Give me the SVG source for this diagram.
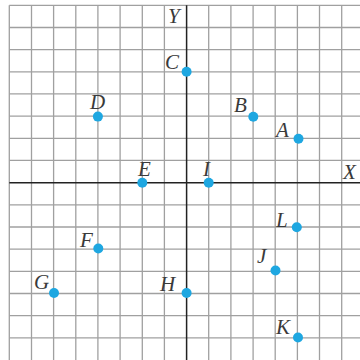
<svg xmlns="http://www.w3.org/2000/svg" width="360" height="360" viewBox="0 0 360 360">
<style>
.grid line{stroke:#a0a0a0;stroke-width:1.3}
.axis{stroke:#222;stroke-width:1.5}
.pt{fill:#1ea7e1}
.lbl{font-family:"Liberation Serif",serif;font-style:italic;font-size:21px;fill:#3a3a3a}
</style>
<rect width="360" height="360" fill="#fff"/>
<g class="grid">
<line x1="9.3" y1="5.3" x2="9.3" y2="360"/>
<line x1="31.5" y1="5.3" x2="31.5" y2="360"/>
<line x1="53.6" y1="5.3" x2="53.6" y2="360"/>
<line x1="75.8" y1="5.3" x2="75.8" y2="360"/>
<line x1="97.9" y1="5.3" x2="97.9" y2="360"/>
<line x1="120.1" y1="5.3" x2="120.1" y2="360"/>
<line x1="142.3" y1="5.3" x2="142.3" y2="360"/>
<line x1="164.4" y1="5.3" x2="164.4" y2="360"/>
<line x1="208.7" y1="5.3" x2="208.7" y2="360"/>
<line x1="230.9" y1="5.3" x2="230.9" y2="360"/>
<line x1="253.1" y1="5.3" x2="253.1" y2="360"/>
<line x1="275.2" y1="5.3" x2="275.2" y2="360"/>
<line x1="297.4" y1="5.3" x2="297.4" y2="360"/>
<line x1="319.5" y1="5.3" x2="319.5" y2="360"/>
<line x1="341.7" y1="5.3" x2="341.7" y2="360"/>
<line x1="9.3" y1="5.3" x2="360" y2="5.3"/>
<line x1="9.3" y1="27.5" x2="360" y2="27.5"/>
<line x1="9.3" y1="49.6" x2="360" y2="49.6"/>
<line x1="9.3" y1="71.8" x2="360" y2="71.8"/>
<line x1="9.3" y1="93.9" x2="360" y2="93.9"/>
<line x1="9.3" y1="116.1" x2="360" y2="116.1"/>
<line x1="9.3" y1="138.3" x2="360" y2="138.3"/>
<line x1="9.3" y1="160.4" x2="360" y2="160.4"/>
<line x1="9.3" y1="204.9" x2="360" y2="204.9"/>
<line x1="9.3" y1="227.0" x2="360" y2="227.0"/>
<line x1="9.3" y1="249.2" x2="360" y2="249.2"/>
<line x1="9.3" y1="271.3" x2="360" y2="271.3"/>
<line x1="9.3" y1="293.5" x2="360" y2="293.5"/>
<line x1="9.3" y1="315.7" x2="360" y2="315.7"/>
<line x1="9.3" y1="337.8" x2="360" y2="337.8"/>
</g>
<g id="axes">
<line class="axis" x1="186.6" y1="5.3" x2="186.6" y2="360"/>
<line class="axis" x1="9.3" y1="182.7" x2="360" y2="182.7"/>
<text class="lbl" x="168" y="23">Y</text>
<text class="lbl" x="343" y="179">X</text>
</g>
<g id="A"><circle class="pt" cx="298.5" cy="138.8" r="5"/><text class="lbl" x="276" y="137">A</text></g>
<g id="B"><circle class="pt" cx="253.3" cy="116.8" r="5"/><text class="lbl" x="234" y="112">B</text></g>
<g id="C"><circle class="pt" cx="186.6" cy="71.8" r="5"/><text class="lbl" x="165" y="69">C</text></g>
<g id="D"><circle class="pt" cx="97.9" cy="116.6" r="5"/><text class="lbl" x="90" y="109">D</text></g>
<g id="E"><circle class="pt" cx="142.3" cy="182.7" r="5"/><text class="lbl" x="138" y="176">E</text></g>
<g id="I"><circle class="pt" cx="208.7" cy="182.7" r="5"/><text class="lbl" x="203" y="176">I</text></g>
<g id="F"><circle class="pt" cx="98.3" cy="248.5" r="5"/><text class="lbl" x="80" y="247">F</text></g>
<g id="G"><circle class="pt" cx="54" cy="293" r="5"/><text class="lbl" x="34" y="289">G</text></g>
<g id="H"><circle class="pt" cx="186.6" cy="293" r="5"/><text class="lbl" x="160" y="291">H</text></g>
<g id="L"><circle class="pt" cx="296.8" cy="227.3" r="5"/><text class="lbl" x="276" y="227">L</text></g>
<g id="J"><circle class="pt" cx="275.5" cy="270.5" r="5"/><text class="lbl" x="257" y="263">J</text></g>
<g id="K"><circle class="pt" cx="298" cy="337.5" r="5"/><text class="lbl" x="276" y="334">K</text></g>
</svg>
